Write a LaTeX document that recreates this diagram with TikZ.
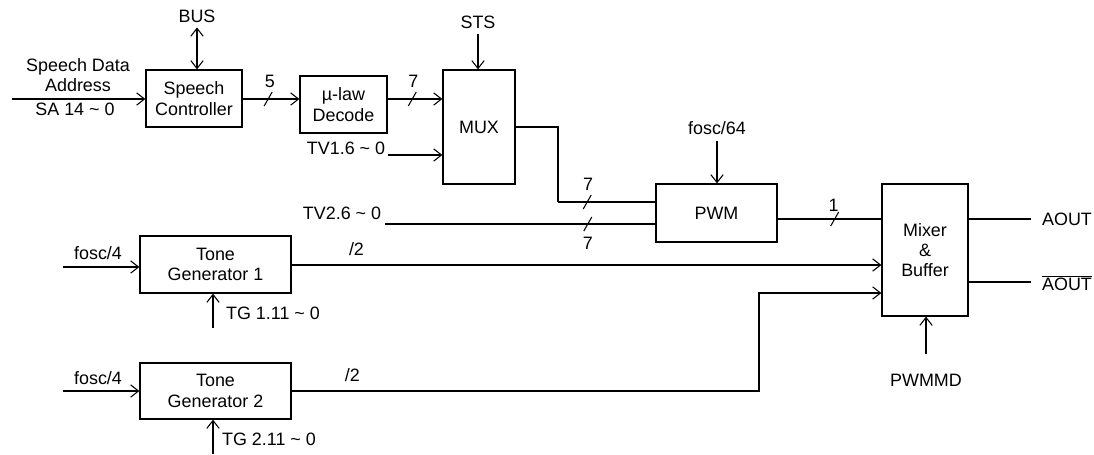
\documentclass[tikz,border=0pt]{standalone}
\usepackage{fontspec}
\setmainfont{Liberation Sans}
\usetikzlibrary{arrows.meta, calc}

\begin{document}
\begin{tikzpicture}[
  % one unit is one pixel of the 1094 x 454 sheet, y runs downwards
  x=0.02cm, y=-0.02cm, font=\fontsize{10.2}{11.6}\selectfont,
  blk/.style={draw, line width=0.7pt, align=center, inner sep=0pt, minimum width=#1},
  ar/.style={-{Straight Barb[length=4.5pt, width=7pt]}, line width=0.6pt},
  dar/.style={{Straight Barb[length=4.5pt, width=7pt]}-{Straight Barb[length=4.5pt, width=7pt]}, line width=0.6pt},
  ln/.style={line width=0.6pt},
  lbl/.style={inner sep=1pt},
  slash/.pic={\draw[-, line width=0.6pt] (-4,7) -- (4,-7);},
]
\useasboundingbox (0,0) rectangle (1094,454);
% blocks
\node[blk=1.92cm, minimum height=1.14cm] (ctrl)  at (194,98.5)  {Speech\\Controller};
\node[blk=1.74cm, minimum height=1.14cm] (ulaw)  at (343.5,104.5) {\textmu-law\\Decode};
\node[blk=1.44cm, minimum height=2.28cm] (mux)   at (479,127)   {MUX};
\node[blk=2.42cm, minimum height=1.16cm] (pwm)   at (716.5,213) {PWM};
\node[blk=1.72cm, minimum height=2.64cm] (mixer) at (925,250)   {Mixer\\\&\\Buffer};
\node[blk=3.02cm, minimum height=1.14cm] (tg1)   at (215.5,264.5) {Tone\\Generator 1};
\node[blk=3.02cm, minimum height=1.12cm] (tg2)   at (215.5,391) {Tone\\Generator 2};
% texts
\node[lbl] (bus)  at (197,16)  {BUS};
\node[lbl] (sts)  at (478,22)  {STS};
\node[lbl, align=center] (sda) at (78,75) {Speech Data\\Address};
\node[lbl] (sa)   at (75,109)  {SA 14 \textasciitilde{} 0};
\node[lbl] (tv1)  at (346,148) {TV1.6 \textasciitilde{} 0};
\node[lbl] (tv2)  at (342,213) {TV2.6 \textasciitilde{} 0};
\node[lbl] (f64)  at (717,128) {fosc/64};
\node[lbl] (pwmmd) at (926,380) {PWMMD};
\node[lbl, anchor=west] (aout)  at (1040,219) {AOUT};
\node[lbl, anchor=west] (naout) at (1040,283) {$\overline{\mbox{AOUT}}$};
\node[lbl] (fa)   at (98,253)  {fosc/4};
\node[lbl] (fb)   at (98,378)  {fosc/4};
\node[lbl, anchor=west] (tga) at (224,313) {TG 1.11 \textasciitilde{} 0};
\node[lbl, anchor=west] (tgb) at (220,439) {TG 2.11 \textasciitilde{} 0};
% free ends
\coordinate (sain) at (12,99);
\coordinate (tv1in) at (388,155);
\coordinate (tv2in) at (385,224);
\coordinate (fain) at (63,267);
\coordinate (fbin) at (63,391);
\coordinate (tgain) at (213,328);
\coordinate (tgbin) at (213,454);
\coordinate (pwmmdin) at (926,354);
\coordinate (muxturn) at (558,127);
\coordinate (tg2turn) at (759,391);
\coordinate (outend) at (1031,0);
% speech path
\draw[ar] (sain) -- (sain -| ctrl.west);
\draw[dar] ($(bus.south)+(0,3)$) -- (bus.south |- ctrl.north);
\draw[ar] (sain -| ctrl.east) -- pic[pos=0.45]{slash} node[lbl, pos=0.48, above=5pt] {5} (sain -| ulaw.west);
\draw[ar] (sain -| ulaw.east) -- pic[pos=0.45]{slash} node[lbl, pos=0.47, above=5pt] {7} (sain -| mux.west);
\draw[ar] (tv1in) -- (tv1in -| mux.west);
\draw[ar] ($(sts.south)+(0,4)$) -- (sts.south |- mux.north);
\draw[ln] (muxturn -| mux.east) -- (muxturn) -- (muxturn |- 0,202);
\draw[ln] (muxturn |- 0,202) -- pic[pos=0.3]{slash} node[lbl, pos=0.31, above=5pt] {7} (pwm.west |- 0,202);
\draw[ln] (tv2in) -- pic[pos=0.75]{slash} node[lbl, pos=0.75, below=6pt] {7} (tv2in -| pwm.west);
\draw[ar] ($(f64.south)+(0,4)$) -- (f64.south |- pwm.north);
\draw[ln] (pwm.east |- 0,219) -- pic[pos=0.55]{slash} node[lbl, pos=0.54, above=3pt] {1} (mixer.west |- 0,219);
% tone generators
\draw[ar] (fain) -- (fain -| tg1.west);
\draw[ar] (fbin) -- (fbin -| tg2.west);
\draw[ar] (tgain) -- (tgain |- tg1.south);
\draw[ar] (tgbin) -- (tgbin |- tg2.south);
\draw[ar] (tg1.east |- 0,265) -- node[lbl, pos=0.11, above=4pt] {/2} (mixer.west |- 0,265);
\draw[ar] (tg2.east |- 0,391) -- node[lbl, pos=0.13, above=4pt] {/2} (tg2turn) |- (mixer.west |- 0,293);
% outputs
\draw[ln] (mixer.east |- aout) -- (outend |- aout);
\draw[ln] (mixer.east |- 0,282) -- (outend |- 0,282);
\draw[ar] (pwmmdin) -- (pwmmdin |- mixer.south);
\end{tikzpicture}
\end{document}
